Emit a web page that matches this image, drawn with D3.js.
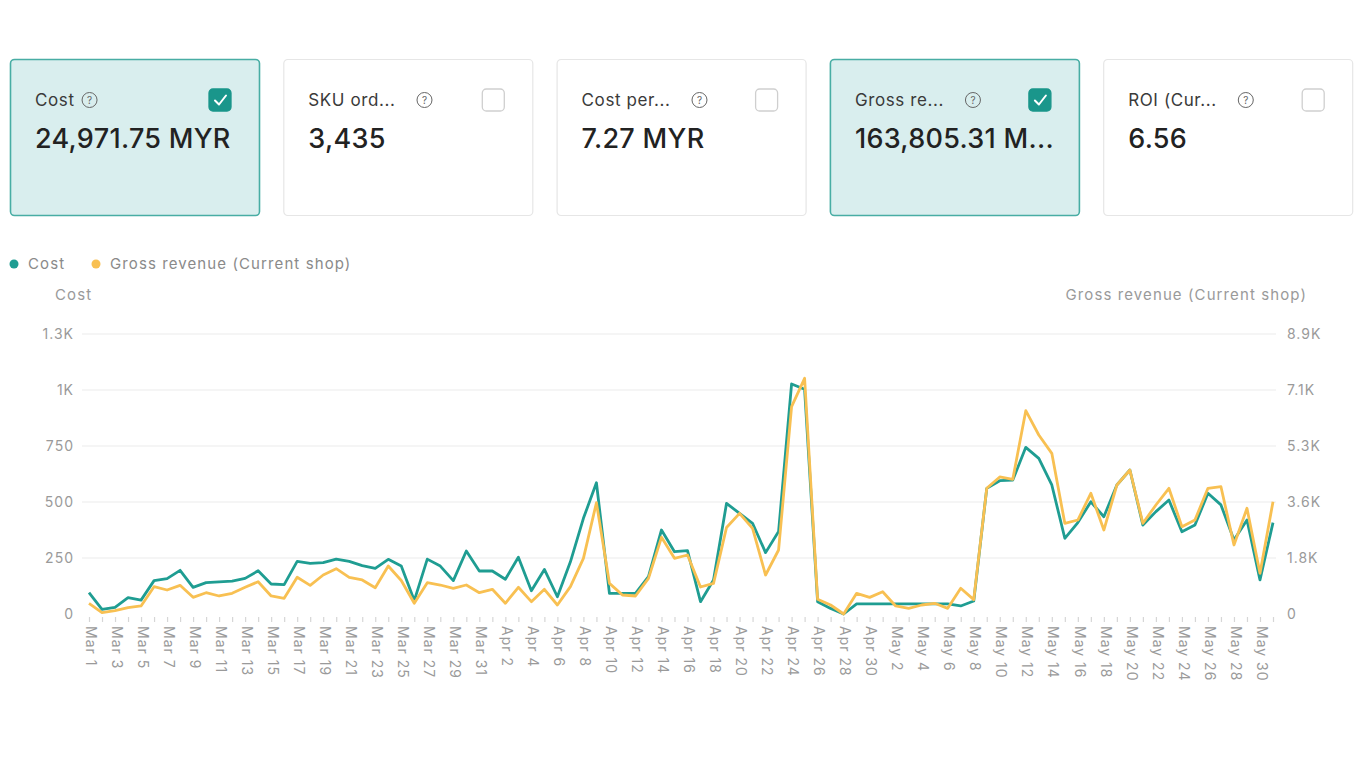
<!DOCTYPE html>
<html>
<head>
<meta charset="utf-8">
<script src="https://cdn.jsdelivr.net/npm/d3@7"></script>
<style>
  body { margin: 0; background: #fff; font-family: Inter, "Noto Sans", sans-serif; }
  svg { display: block; }
</style>
</head>
<body>
<svg id="chart" width="1366" height="768"></svg>
<script>
// ---------- data ----------
const cardTitles = ["Cost", "SKU ord...", "Cost per...", "Gross re...", "ROI (Cur..."];
const cardValues = ["24,971.75 MYR", "3,435", "7.27 MYR", "163,805.31 M...", "6.56"];
const cardChecked = [true, false, false, true, false];

const seriesNames = ["Cost", "Gross revenue (Current shop)"];

// Mar 1 .. May 31, one point per day
const dates = d3.timeDay.range(new Date(2024, 2, 1), new Date(2024, 5, 1));

const cost = [
  95, 21, 30, 73, 62, 149, 158, 195, 119, 140, 143, 147, 159, 193, 134, 131, 235, 226, 229, 245,
  235, 216, 204, 244, 214, 60, 245, 214, 149, 281, 192, 192, 155, 253, 104, 199, 77, 233, 427, 586,
  92, 92, 92, 167, 375, 278, 283, 55, 152, 494, 449, 405, 274, 368, 1027, 1003, 55, 25, 0, 45,
  45, 45, 45, 45, 45, 45, 45, 36, 58, 561, 595, 598, 744, 695, 576, 338, 408, 501, 434, 576,
  643, 397, 457, 509, 367, 397, 539, 487, 330, 420, 152, 408
];
const revenue = [
  339, 41, 105, 200, 254, 865, 761, 909, 529, 675, 571, 656, 846, 1024, 571, 498, 1163, 909, 1236, 1436,
  1163, 1078, 834, 1521, 1060, 339, 992, 919, 814, 919, 676, 782, 339, 846, 391, 782, 285, 866, 1765, 3528,
  972, 602, 571, 1131, 2431, 1765, 1870, 856, 972, 2740, 3191, 2716, 1236, 2029, 6571, 7470, 465, 285, 0, 655,
  528, 707, 254, 180, 285, 339, 180, 814, 455, 3984, 4343, 4269, 6444, 5674, 5093, 2875, 2979, 3825, 2662, 4089,
  4564, 2875, 3455, 3984, 2768, 2979, 3984, 4035, 2187, 3350, 1290, 3559
];

const leftTicks = [0, 250, 500, 750, 1000, 1250];
const leftLabels = ["0", "250", "500", "750", "1K", "1.3K"];
const rightTicks = [0, 1775, 3550, 5325, 7100, 8875];
const rightLabels = ["0", "1.8K", "3.6K", "5.3K", "7.1K", "8.9K"];

// ---------- style ----------
const teal = "#1f9d92";
const orange = "#f8c052";
const grey = "#9a9a9a";

const svg = d3.select("#chart");

// ---------- metric cards ----------
const cardW = 249, cardH = 156, cardY = 59, cardGap = 24.3;
const cards = svg.selectAll("g.card")
  .data(cardTitles.map((t, i) => ({ title: t, value: cardValues[i], checked: cardChecked[i], i })))
  .enter().append("g")
  .attr("class", "card")
  .attr("transform", d => `translate(${10 + d.i * (cardW + cardGap)},${cardY})`);

cards.append("rect")
  .attr("x", 0.5).attr("y", 0.5)
  .attr("width", cardW).attr("height", cardH)
  .attr("rx", 4)
  .attr("fill", d => d.checked ? "#d9eeee" : "#fff")
  .attr("stroke", d => d.checked ? "#48ada4" : "#e6e6e6")
  .attr("stroke-width", d => d.checked ? 1.6 : 1.2);

cards.append("text")
  .attr("class", "ctitle")
  .attr("x", 25).attr("y", 47)
  .attr("fill", "#3a3a3a")
  .style("font-size", "17px")
  .style("letter-spacing", "0.6px")
  .text(d => d.title);

// help icon after the title
cards.each(function (d) {
  const g = d3.select(this);
  const w = g.select("text.ctitle").node().getComputedTextLength();
  const cx = 25 + w + (d.i === 0 ? 15 : 29);
  g.append("circle")
    .attr("cx", cx).attr("cy", 41).attr("r", 7.5)
    .attr("fill", "none").attr("stroke", "#666").attr("stroke-width", 1);
  g.append("text")
    .attr("x", cx).attr("y", 45)
    .attr("text-anchor", "middle")
    .attr("fill", "#666")
    .style("font-size", "10px")
    .text("?");
});

cards.append("text")
  .attr("x", 25).attr("y", 89)
  .attr("fill", "#222")
  .style("font-size", "27px")
  .style("font-weight", 500)
  .style("letter-spacing", "0.3px")
  .text(d => d.value);

// checkbox
cards.append("rect")
  .attr("x", 199).attr("y", 30)
  .attr("width", 22).attr("height", 22)
  .attr("rx", 4)
  .attr("fill", d => d.checked ? "#1a968b" : "#fff")
  .attr("stroke", d => d.checked ? "#1a968b" : "#cfcfcf")
  .attr("stroke-width", 1.3);

cards.filter(d => d.checked).append("path")
  .attr("d", "M205,41.5 L209,45.5 L216,36.5")
  .attr("fill", "none")
  .attr("stroke", "#fff")
  .attr("stroke-width", 2)
  .attr("stroke-linecap", "round")
  .attr("stroke-linejoin", "round");

// ---------- legend ----------
const legend = svg.append("g").attr("transform", "translate(0,264)");
const legX = [14, 96];
seriesNames.forEach((name, i) => {
  legend.append("circle")
    .attr("cx", legX[i]).attr("cy", 0).attr("r", 4.5)
    .attr("fill", i === 0 ? teal : orange);
  legend.append("text")
    .attr("x", legX[i] + 14).attr("y", 5)
    .attr("fill", "#8a8a8a")
    .style("font-size", "15px")
    .style("letter-spacing", "1.1px")
    .text(name);
});

// ---------- chart ----------
const plotTop = 334, plotBottom = 614;
const gridLeft = 82, gridRight = 1276;

const x = d3.scalePoint()
  .domain(d3.range(dates.length))
  .range([89, 1273]);

const yL = d3.scaleLinear().domain([0, 1250]).range([plotBottom, plotTop]);
const yR = d3.scaleLinear().domain([0, 8875]).range([plotBottom, plotTop]);

// axis titles
svg.append("text")
  .attr("x", 55).attr("y", 300)
  .attr("fill", grey)
  .style("font-size", "15px")
  .style("letter-spacing", "1.1px")
  .text(seriesNames[0]);
svg.append("text")
  .attr("x", 1307).attr("y", 300)
  .attr("text-anchor", "end")
  .attr("fill", grey)
  .style("font-size", "15px")
  .style("letter-spacing", "1.1px")
  .text(seriesNames[1]);

// grid lines
svg.append("g")
  .selectAll("line")
  .data(leftTicks.slice(1))
  .enter().append("line")
  .attr("x1", gridLeft).attr("x2", gridRight)
  .attr("y1", d => yL(d)).attr("y2", d => yL(d))
  .attr("stroke", "#ebebeb")
  .attr("stroke-width", 1.2);

// left axis
const leftAxis = svg.append("g")
  .attr("transform", `translate(${gridLeft - 5},0)`)
  .call(d3.axisLeft(yL).tickValues(leftTicks).tickSize(0)
    .tickFormat((d, i) => leftLabels[i]));
leftAxis.select(".domain").remove();
leftAxis.selectAll("text")
  .attr("fill", grey)
  .style("font-size", "14px")
  .style("letter-spacing", "1px")
  .style("font-family", "Inter, sans-serif");

// right axis
const rightAxis = svg.append("g")
  .attr("transform", `translate(${gridRight + 8},0)`)
  .call(d3.axisRight(yR).tickValues(rightTicks).tickSize(0)
    .tickFormat((d, i) => rightLabels[i]));
rightAxis.select(".domain").remove();
rightAxis.selectAll("text")
  .attr("fill", grey)
  .style("font-size", "14px")
  .style("letter-spacing", "1px")
  .style("font-family", "Inter, sans-serif");

// bottom axis: tick on every day, label every second day
const fmt = d3.timeFormat("%b %-d");
const bottomAxis = svg.append("g")
  .attr("transform", `translate(0,${plotBottom + 3})`)
  .call(d3.axisBottom(x).tickSize(5).tickPadding(6)
    .tickFormat(i => i % 2 === 0 ? fmt(dates[i]) : ""));
bottomAxis.select(".domain").remove();
bottomAxis.selectAll("line").attr("stroke", "#d6d6d6").attr("stroke-width", 1.2);
bottomAxis.selectAll("text")
  .attr("fill", grey)
  .style("font-size", "14px")
  .style("letter-spacing", "1px")
  .style("font-family", "Inter, sans-serif")
  .attr("text-anchor", "start")
  .attr("dy", null)
  .attr("y", 0)
  .attr("dominant-baseline", "middle")
  .attr("transform", "translate(0,9) rotate(90)");

// lines
const lineCost = d3.line().x((d, i) => x(i)).y(d => yL(d));
const lineRev = d3.line().x((d, i) => x(i)).y(d => yR(d));

svg.append("path")
  .datum(cost)
  .attr("fill", "none")
  .attr("stroke", teal)
  .attr("stroke-width", 2.8)
  .attr("stroke-linejoin", "round")
  .attr("d", lineCost);

svg.append("path")
  .datum(revenue)
  .attr("fill", "none")
  .attr("stroke", orange)
  .attr("stroke-width", 2.8)
  .attr("stroke-linejoin", "round")
  .attr("d", lineRev);
</script>
</body>
</html>
